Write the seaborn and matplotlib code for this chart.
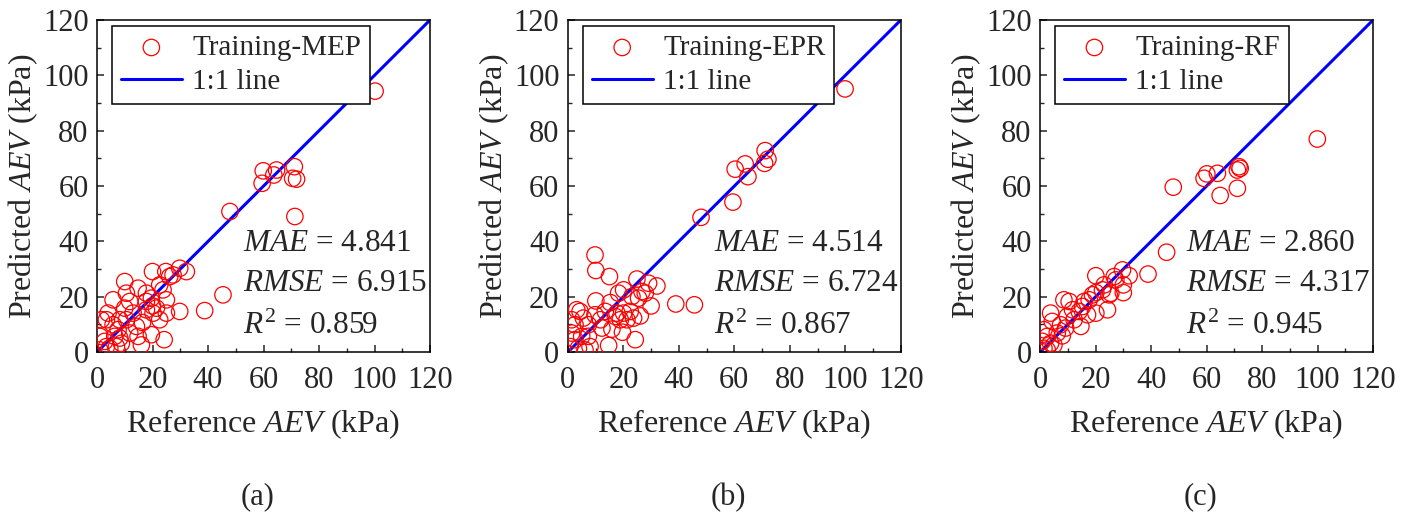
import numpy as np
import pandas as pd
import seaborn as sns
import matplotlib
matplotlib.use("Agg")
import matplotlib.pyplot as plt
from matplotlib.ticker import MultipleLocator

# ---- data (reference AEV, predicted AEV in kPa) ----
mep_ref = [100.2, 59.9, 64.7, 63.7, 71.1, 70.5, 71.9, 59.5, 47.9, 71.3, 45.4, 38.8,
           32.2, 29.8, 27.4, 24.8, 26.2, 22.6, 20.0, 29.8, 24.2, 25.0, 25.0, 22.6,
           20.0, 17.8, 19.6, 16.0, 14.8, 16.4, 14.8, 10.0, 11.8, 10.0, 10.6, 5.8,
           8.2, 4.0, 1.6, 3.4, 8.2, 6.4, 8.8, 3.4, 1.0, 1.0, 4.6, 7.0, 13.0, 17.8,
           21.4, 23.8, 14.2, 11.8, 5.8, 2.8, 17.8, 19.6, 20.2, 10.6, 7.6]
mep_pred = [94.3, 65.5, 65.8, 64.0, 67.0, 62.8, 62.5, 61.0, 50.8, 49.0, 20.7, 15.0,
            29.1, 30.3, 27.9, 29.1, 27.3, 24.3, 29.1, 14.7, 4.5, 18.9, 14.1, 11.7,
            16.7, 18.3, 6.3, 2.6, 5.7, 10.7, 23.1, 25.5, 18.3, 15.9, 21.3, 18.9,
            11.7, 14.1, 11.7, 11.7, 5.1, 5.7, 3.2, 2.0, 5.7, 0.8, 1.4, 2.0, 14.1, 15.3,
            15.9, 22.5, 9.3, 6.9, 9.9, 3.9, 21.3, 19.5, 14.1, 11.7, 8.1]

epr_ref = [99.9, 71.1, 72.1, 70.9, 63.9, 64.9, 60.3, 59.5, 48.0, 45.6, 38.9, 32.1,
           30.0, 29.1, 27.9, 24.9, 26.7, 24.3, 26.1, 22.5, 23.1, 20.1, 20.1, 19.7,
           21.3, 18.3, 17.7, 15.9, 15.3, 15.0, 14.7, 9.8, 10.1, 10.1, 9.8, 11.8,
           7.4, 8.0, 7.4, 5.0, 4.4, 3.2, 1.4, 2.6, 1.4, 0.8, 3.8, 6.2, 5.6, 13.5,
           17.1, 23.7, 25.5, 18.9, 12.3, 2.6]
epr_pred = [95.1, 72.8, 69.7, 68.2, 68.0, 63.4, 66.1, 54.2, 48.7, 17.1, 17.4, 23.9,
            16.7, 24.9, 21.3, 26.4, 21.9, 4.5, 13.1, 14.7, 20.1, 22.5, 14.1, 7.2,
            11.7, 21.3, 14.1, 8.3, 17.9, 27.3, 2.4, 35.1, 29.5, 18.5, 13.5, 11.7,
            9.9, 2.0, 5.7, 5.7, 14.7, 15.3, 11.7, 9.9, 6.9, 2.0, 1.4, 0.8, 12.3, 14.7,
            12.9, 12.3, 19.5, 11.7, 8.7, 4.5]

rf_ref = [99.9, 71.7, 71.1, 72.1, 71.1, 64.9, 63.9, 60.1, 59.1, 48.0, 45.6, 38.9,
          32.1, 29.7, 30.0, 30.0, 27.3, 26.7, 24.9, 24.3, 23.1, 22.5, 20.1, 20.1,
          20.1, 17.7, 15.3, 15.9, 14.7, 10.5, 8.6, 9.8, 11.7, 7.4, 8.0, 6.2, 4.4,
          3.8, 1.4, 2.6, 3.8, 1.4, 2.6, 5.0, 12.3, 17.1, 18.9, 25.5, 14.1, 9.2, 0.8]
rf_pred = [77.0, 67.0, 65.8, 66.4, 59.2, 56.6, 64.6, 64.4, 62.8, 59.6, 36.1, 28.2,
           27.6, 29.7, 24.3, 21.5, 26.1, 27.3, 20.7, 15.3, 24.3, 22.5, 27.6, 21.5,
           14.1, 18.9, 16.5, 18.3, 9.3, 18.3, 18.9, 12.9, 15.3, 9.9, 5.9, 6.9, 11.1,
           14.1, 8.1, 5.7, 3.2, 1.4, 0.8, 2.6, 11.7, 13.5, 20.7, 21.3, 14.7, 8.7, 3.9]

models = ["MEP", "EPR", "RF"]
refs = [mep_ref, epr_ref, rf_ref]
preds = [mep_pred, epr_pred, rf_pred]
mae = ["4.841", "4.514", "2.860"]
rmse = ["6.915", "6.724", "4.317"]
r2 = ["0.859", "0.867", "0.945"]
panel_tags = ["(a)", "(b)", "(c)"]
one_to_one = [0, 120]

sns.set_style("ticks")
plt.rcParams["font.family"] = ["Liberation Serif", "DejaVu Serif"]
plt.rcParams["mathtext.fontset"] = "custom"
plt.rcParams["mathtext.rm"] = "Liberation Serif"
plt.rcParams["mathtext.it"] = "Liberation Serif:italic"
plt.rcParams["axes.linewidth"] = 1.1

fig = plt.figure(figsize=(14.16, 5.19), dpi=100)
lefts = [0.0685, 0.401, 0.7345]

for i in range(3):
    ax = fig.add_axes([lefts[i], 0.3215, 0.2352, 0.6400])
    df = pd.DataFrame({"ref": refs[i], "pred": preds[i]})
    sns.scatterplot(data=df, x="ref", y="pred", ax=ax, marker="o", s=140,
                    facecolors="none", edgecolor="red", linewidth=0.9,
                    label="Training-" + models[i], zorder=3)
    sns.lineplot(x=one_to_one, y=one_to_one, ax=ax, color="blue", linewidth=2.2,
                 label="1:1 line", zorder=2)
    ax.set_xlim(0, 120)
    ax.set_ylim(0, 120)
    ax.xaxis.set_major_locator(MultipleLocator(20))
    ax.yaxis.set_major_locator(MultipleLocator(20))
    ax.xaxis.set_minor_locator(MultipleLocator(10))
    ax.yaxis.set_minor_locator(MultipleLocator(10))
    ax.tick_params(which="major", direction="in", length=5, width=1.1, labelsize=22,
                   top=False, right=False)
    ax.tick_params(axis="x", which="major", pad=10)
    ax.tick_params(axis="y", which="major", pad=6)
    ax.tick_params(which="minor", direction="in", length=3, width=1.0, top=False, right=False)
    for sp in ax.spines.values():
        sp.set_visible(True)
        sp.set_color("black")
    ax.set_xlabel(r"Reference $\mathit{AEV}$ (kPa)", fontsize=23, labelpad=9)
    ax.set_ylabel(r"Predicted $\mathit{AEV}$ (kPa)", fontsize=23, labelpad=2)
    ax.text(52.5, 36.5, r"$\mathit{MAE}$ = " + mae[i], fontsize=22.5)
    ax.text(52.5, 22.0, r"$\mathit{RMSE}$ = " + rmse[i], fontsize=22.5)
    ax.text(52.5, 6.5, r"$\mathit{R}^2$ = " + r2[i], fontsize=22.5)
    leg = ax.legend(loc="upper left", bbox_to_anchor=(0.045, 0.982), borderaxespad=0,
                    fontsize=21, frameon=True, fancybox=False, edgecolor="black",
                    framealpha=1, handlelength=2.1, handletextpad=0.35,
                    labelspacing=0.25, borderpad=0.3)
    leg.get_frame().set_linewidth(1.1)
    fig.text(lefts[i] + 0.2352 / 2 - 0.004, 0.042, panel_tags[i], fontsize=22,
             ha="center", va="center")

fig.savefig("out.png", dpi=100)
